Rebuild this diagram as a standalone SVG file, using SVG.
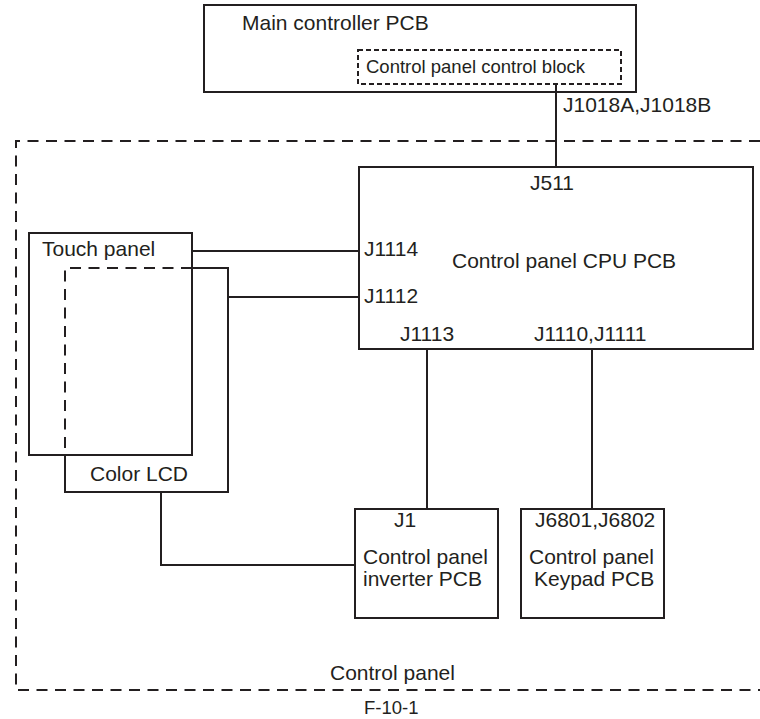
<svg xmlns="http://www.w3.org/2000/svg" width="760" height="719" viewBox="0 0 760 719">
<style>
  .box{fill:none;stroke:#231f20;stroke-width:2}
  .dash{fill:none;stroke:#231f20;stroke-width:2;stroke-dasharray:11 7.5}
  .sdash{fill:none;stroke:#231f20;stroke-width:2;stroke-dasharray:5 3}
  .wire{fill:none;stroke:#231f20;stroke-width:2}
  text{font-family:"Liberation Sans",Arial,sans-serif;font-size:21px;fill:#231f20}
  .s{font-size:18.5px}
</style>
<rect width="760" height="719" fill="#fff"/>
<g id="control-panel">
  <path class="dash" d="M760 141 H16 V690 H760"/>
  <text x="330" y="680">Control panel</text>
</g>
<g id="main-controller">
  <rect class="box" x="204" y="5" width="432" height="87"/>
  <text x="242" y="30">Main controller PCB</text>
</g>
<g id="control-block">
  <rect class="sdash" x="358" y="50" width="263" height="34"/>
  <text class="s" x="366" y="73">Control panel control block</text>
</g>
<g id="cpu-pcb">
  <rect class="box" x="359" y="167" width="394" height="182"/>
  <text x="452" y="268">Control panel CPU PCB</text>
  <text x="530" y="190">J511</text>
  <text x="364" y="256">J1114</text>
  <text x="364" y="303">J1112</text>
  <text x="400" y="341">J1113</text>
  <text x="534" y="341">J1110,J1111</text>
</g>
<g id="touch-panel">
  <rect class="box" x="29" y="233" width="163" height="222"/>
  <text x="42" y="256">Touch panel</text>
</g>
<g id="color-lcd">
  <path class="dash" d="M192 268 H65 V455"/>
  <path class="box" d="M192 268 H228 V492 H65 V455"/>
  <text x="90" y="481">Color LCD</text>
</g>
<g id="inverter-pcb">
  <rect class="box" x="355" y="509" width="143" height="109"/>
  <text x="394" y="527">J1</text>
  <text x="363" y="564">Control panel</text>
  <text x="363" y="586">inverter PCB</text>
</g>
<g id="keypad-pcb">
  <rect class="box" x="521" y="509" width="143" height="109"/>
  <text x="535" y="527">J6801,J6802</text>
  <text x="529" y="564">Control panel</text>
  <text x="534" y="586">Keypad PCB</text>
</g>
<g id="connectors">
  <path class="wire" d="M556 84 V167"/>
  <text x="563" y="112">J1018A,J1018B</text>
  <path class="wire" d="M192 251 H359"/>
  <path class="wire" d="M228 297 H359"/>
  <path class="wire" d="M161 492 V565 H355"/>
  <path class="wire" d="M427 349 V509"/>
  <path class="wire" d="M592 349 V509"/>
</g>
<text class="s" x="364" y="714">F-10-1</text>
</svg>
